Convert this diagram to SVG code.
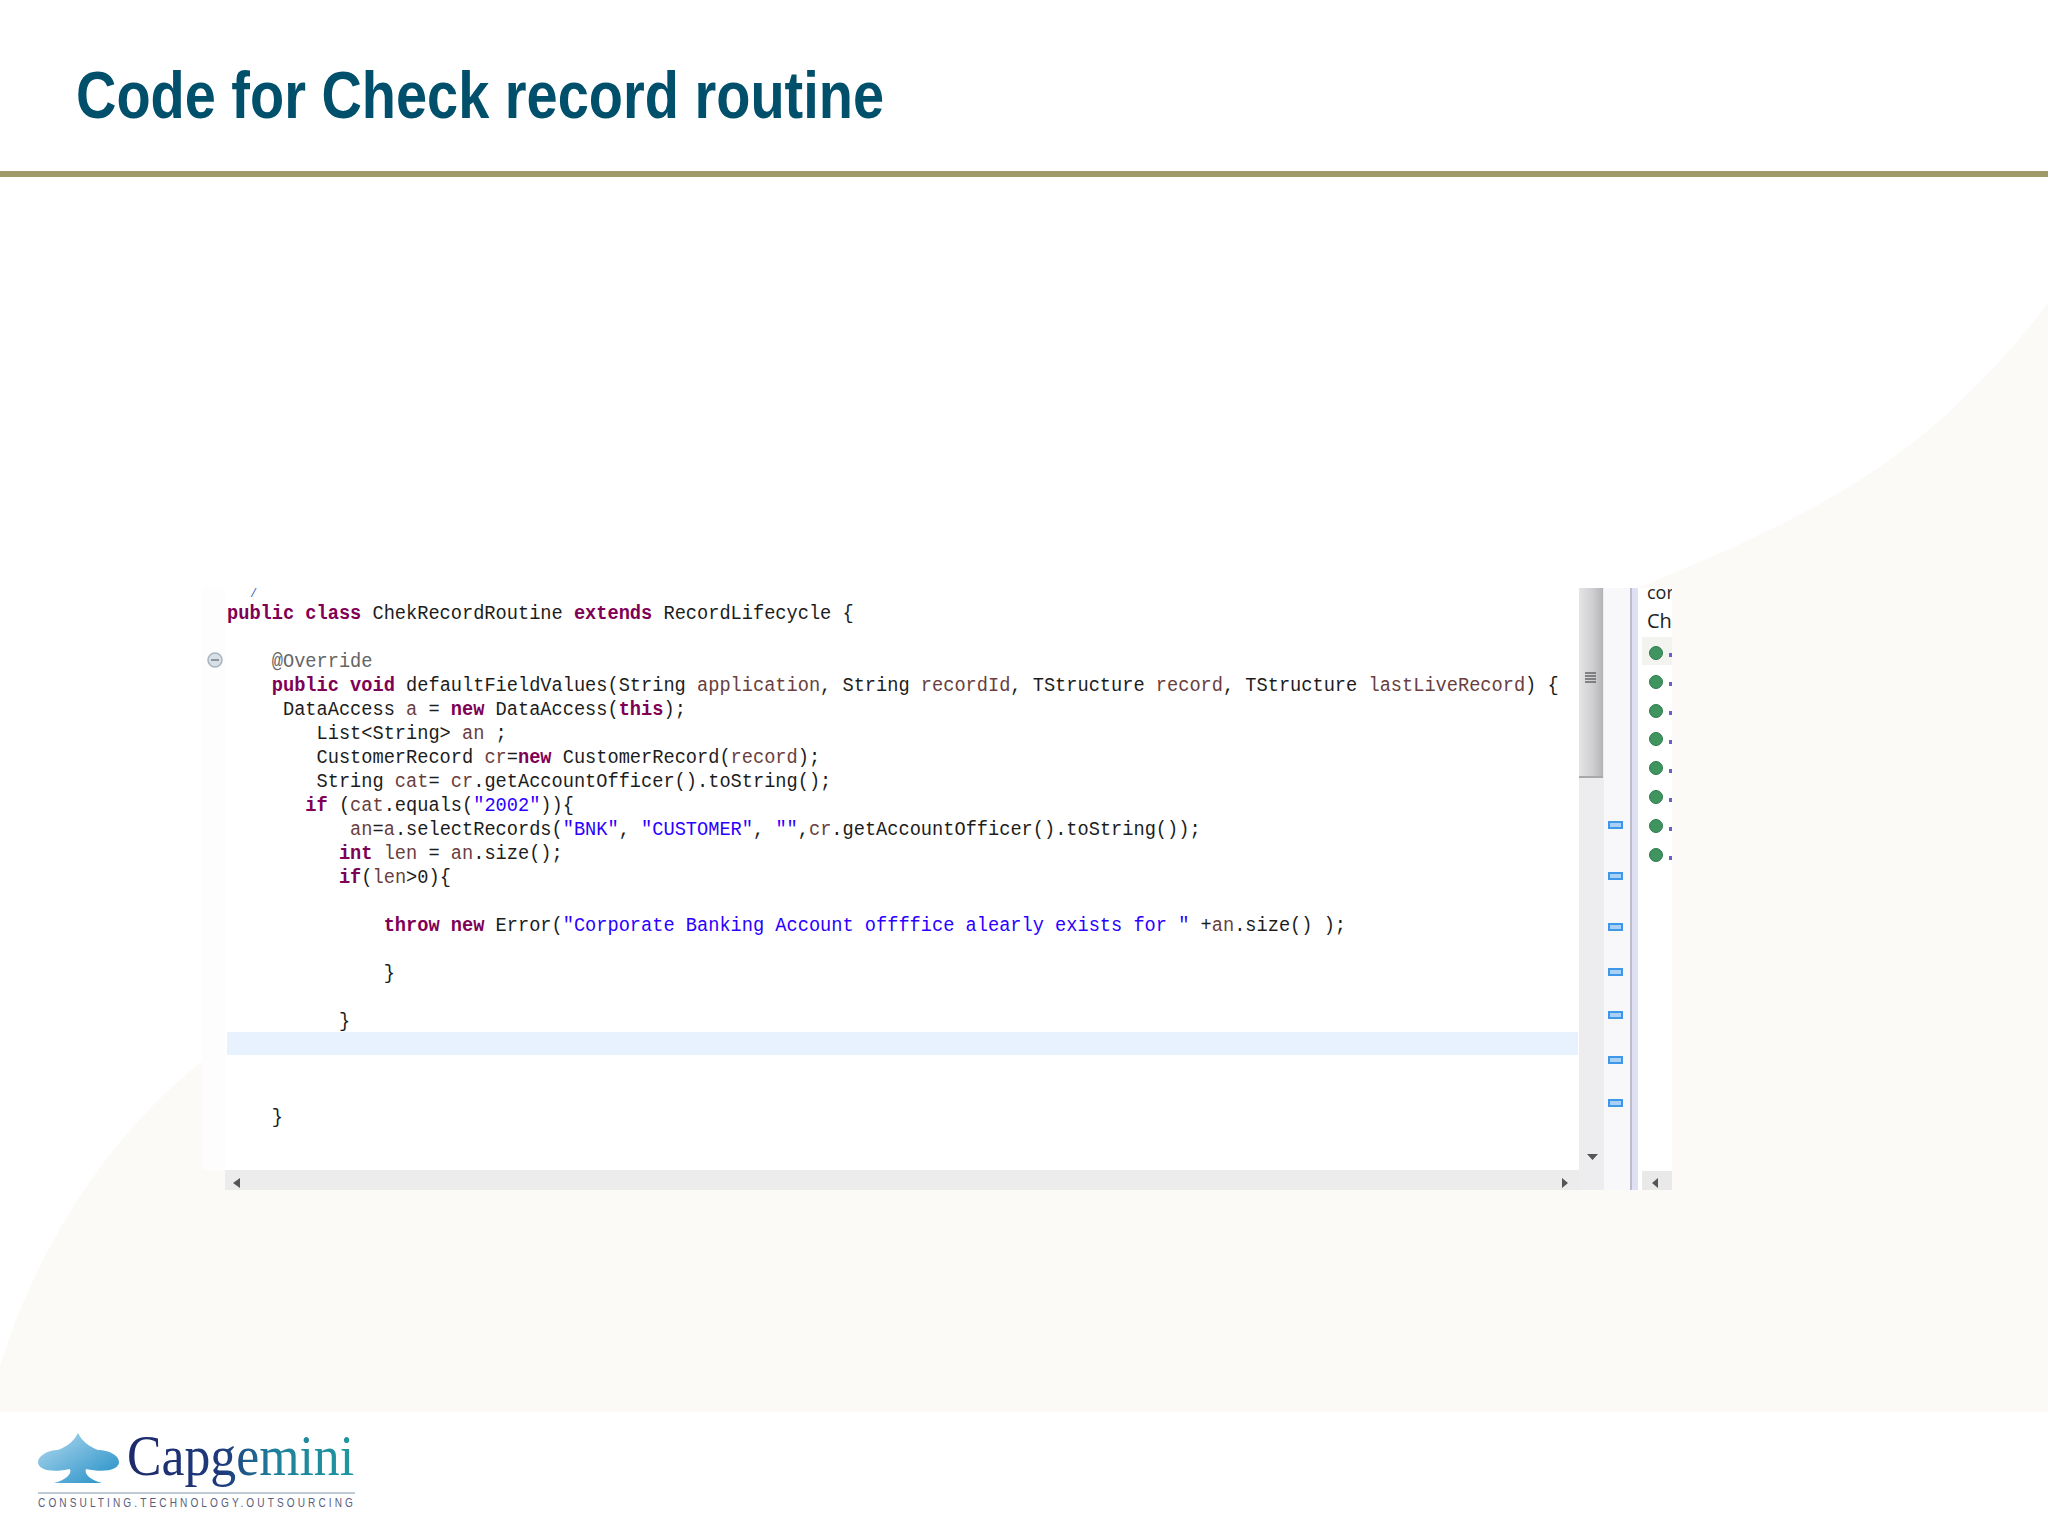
<svg xmlns="http://www.w3.org/2000/svg" width="2048" height="1536" viewBox="0 0 2048 1536">
<style>
.c{font-family:"Liberation Mono","DejaVu Sans Mono",monospace;font-size:20px;fill:#1c1c1c;white-space:pre}
.k{fill:#7f0055;font-weight:bold}
.v{fill:#6a3e3e}
.s{fill:#2a00ff}
.a{fill:#646464}
.mk{fill:#a9d0f5;stroke:#3f97ea;stroke-width:2}
.dot{fill:#3f9460;stroke:#2f7a4c;stroke-width:1}
.tick{fill:#6a5fc8}
.arr{fill:#555}
</style>
<defs>
<linearGradient id="thumb" x1="0" x2="1" y1="0" y2="0"><stop offset="0" stop-color="#e4e4e6"/><stop offset=".55" stop-color="#d0d0d2"/><stop offset="1" stop-color="#b4b4b6"/></linearGradient>
<linearGradient id="brand" x1="0" x2="1" y1="0" y2="0"><stop offset="0" stop-color="#1d2a6b"/><stop offset=".42" stop-color="#1e3a7c"/><stop offset=".65" stop-color="#1f7f9c"/><stop offset="1" stop-color="#1f97a0"/></linearGradient>
<linearGradient id="spade" x1="0" x2="1" y1="0" y2="1"><stop offset="0" stop-color="#b5dbef"/><stop offset="1" stop-color="#1f8dc6"/></linearGradient>
<clipPath id="side"><rect x="1637" y="588" width="35" height="602"/></clipPath>
</defs>
<rect id="page" width="2048" height="1536" fill="#fff"/>
<path id="swoosh" d="M0 1412V1367C25 1280 90 1150 200 1063L1640 587C1740 545 1850 500 1940 420C1985 380 2020 340 2048 303V1412Z" fill="#fbfaf7"/>
<g id="title"><text x="76" y="118" font-family="'Liberation Sans',Arial,sans-serif" font-weight="bold" font-size="66" fill="#004f6b" textLength="808" lengthAdjust="spacingAndGlyphs">Code for Check record routine</text></g>
<rect id="rule" x="0" y="171" width="2048" height="6" fill="#a09a6b"/>
<g id="screenshot">
<rect x="202" y="588" width="1470" height="582" fill="#fff"/>
<rect x="202" y="588" width="23" height="582" fill="#fdfdfd"/>
<rect x="225" y="1170" width="1355" height="20" fill="#ececec"/>
<rect x="1579" y="588" width="25" height="602" fill="#ededef"/>
<rect x="1579" y="588" width="24" height="190" fill="url(#thumb)"/>
<rect x="1579" y="776" width="24" height="2" fill="#a8a8aa"/>
<rect x="1604" y="588" width="26" height="602" fill="#f8f8fa"/>
<rect x="1630" y="588" width="2" height="602" fill="#bcbccc"/>
<rect x="1632" y="588" width="6" height="602" fill="#e0e0f4"/>
<rect x="1638" y="588" width="34" height="602" fill="#fff"/>
<rect x="1642" y="1171" width="30" height="19" fill="#e9e9e9"/>
<rect x="227" y="1032" width="1351" height="23" fill="#e8f2fe"/>
<path d="M1585 673h11M1585 676h11M1585 679h11M1585 682h11" stroke="#666" stroke-width="1.3" fill="none"/>
<path class="arr" d="M1587 1154h11l-5.500 6zM240 1178v10l-7-5zM1562 1178v10l6-5zM1658 1178v10l-6-5z"/>
<circle cx="215" cy="660" r="7" fill="#d8dfe6" stroke="#a9b4c0" stroke-width="1.500"/>
<path d="M211 660h8" stroke="#6f7c8a" stroke-width="1.500"/>
<text x="250" y="597" font-family="'Liberation Mono',monospace" font-size="12" fill="#3f5fbf">/</text>
<g transform="translate(227 0) scale(.933 1)" xml:space="preserve">
<text class="c" y="619"><tspan class="k">public class</tspan> ChekRecordRoutine <tspan class="k">extends</tspan> RecordLifecycle {</text>
<text class="c a" y="667">    @Override</text>
<text class="c" y="691">    <tspan class="k">public void</tspan> defaultFieldValues(String <tspan class="v">application</tspan>, String <tspan class="v">recordId</tspan>, TStructure <tspan class="v">record</tspan>, TStructure <tspan class="v">lastLiveRecord</tspan>) {</text>
<text class="c" y="715">     DataAccess <tspan class="v">a</tspan> = <tspan class="k">new</tspan> DataAccess(<tspan class="k">this</tspan>);</text>
<text class="c" y="739">        List&lt;String&gt; <tspan class="v">an</tspan> ;</text>
<text class="c" y="763">        CustomerRecord <tspan class="v">cr</tspan>=<tspan class="k">new</tspan> CustomerRecord(<tspan class="v">record</tspan>);</text>
<text class="c" y="787">        String <tspan class="v">cat</tspan>= <tspan class="v">cr</tspan>.getAccountOfficer().toString();</text>
<text class="c" y="811">       <tspan class="k">if</tspan> (<tspan class="v">cat</tspan>.equals(<tspan class="s">"2002"</tspan>)){</text>
<text class="c" y="835">           <tspan class="v">an</tspan>=<tspan class="v">a</tspan>.selectRecords(<tspan class="s">"BNK"</tspan>, <tspan class="s">"CUSTOMER"</tspan>, <tspan class="s">""</tspan>,<tspan class="v">cr</tspan>.getAccountOfficer().toString());</text>
<text class="c" y="859">          <tspan class="k">int</tspan> <tspan class="v">len</tspan> = <tspan class="v">an</tspan>.size();</text>
<text class="c" y="883">          <tspan class="k">if</tspan>(<tspan class="v">len</tspan>&gt;0){</text>
<text class="c" y="931">              <tspan class="k">throw new</tspan> Error(<tspan class="s">"Corporate Banking Account offffice alearly exists for "</tspan> +<tspan class="v">an</tspan>.size() );</text>
<text class="c" y="979">              }</text>
<text class="c" y="1027">          }</text>
<text class="c" y="1123">    }</text>
</g>
<g id="markers">
<rect class="mk" x="1609" y="822" width="13" height="6"/>
<rect class="mk" x="1609" y="873" width="13" height="6"/>
<rect class="mk" x="1609" y="924" width="13" height="6"/>
<rect class="mk" x="1609" y="969" width="13" height="6"/>
<rect class="mk" x="1609" y="1012" width="13" height="6"/>
<rect class="mk" x="1609" y="1057" width="13" height="6"/>
<rect class="mk" x="1609" y="1100" width="13" height="6"/>
</g>
<g id="outline" clip-path="url(#side)">
<rect x="1642" y="637" width="30" height="28" fill="#f3f3f0"/>
<text x="1647" y="599" font-family="'Open Sans','Liberation Sans',sans-serif" font-size="18" fill="#222">cor</text>
<text x="1647" y="628" font-family="'Open Sans','Liberation Sans',sans-serif" font-size="20" fill="#222">Ch</text>
<circle class="dot" cx="1656" cy="653" r="6.500"/><rect class="tick" x="1669" y="653" width="3" height="4"/>
<circle class="dot" cx="1656" cy="682" r="6.500"/><rect class="tick" x="1669" y="682" width="3" height="4"/>
<circle class="dot" cx="1656" cy="711" r="6.500"/><rect class="tick" x="1669" y="711" width="3" height="4"/>
<circle class="dot" cx="1656" cy="739" r="6.500"/><rect class="tick" x="1669" y="740" width="3" height="4"/>
<circle class="dot" cx="1656" cy="768" r="6.500"/><rect class="tick" x="1669" y="769" width="3" height="4"/>
<circle class="dot" cx="1656" cy="797" r="6.500"/><rect class="tick" x="1669" y="798" width="3" height="4"/>
<circle class="dot" cx="1656" cy="826" r="6.500"/><rect class="tick" x="1669" y="827" width="3" height="4"/>
<circle class="dot" cx="1656" cy="855" r="6.500"/><rect class="tick" x="1669" y="856" width="3" height="4"/>
</g>
</g>
<g id="logo">
<path d="M78 1433C74 1441 68 1446 58 1450C46 1450 38 1457 38 1462C38 1470 52 1473 70 1469C72 1474 66 1480 54 1483H102C90 1480 84 1474 86 1469C104 1473 119 1470 119 1462C119 1455 108 1450 98 1450C88 1446 82 1441 78 1433Z" fill="url(#spade)"/>
<text x="127" y="1475" font-family="'Liberation Serif',serif" font-size="58" fill="url(#brand)" textLength="227" lengthAdjust="spacingAndGlyphs">Capgemini</text>
<rect x="38" y="1492.500" width="317" height="1" fill="#7f95ad"/>
<text x="38" y="1507" font-family="'Liberation Sans',sans-serif" font-size="13" letter-spacing="4" fill="#56607e" textLength="318" lengthAdjust="spacingAndGlyphs">CONSULTING.TECHNOLOGY.OUTSOURCING</text>
</g>
</svg>
